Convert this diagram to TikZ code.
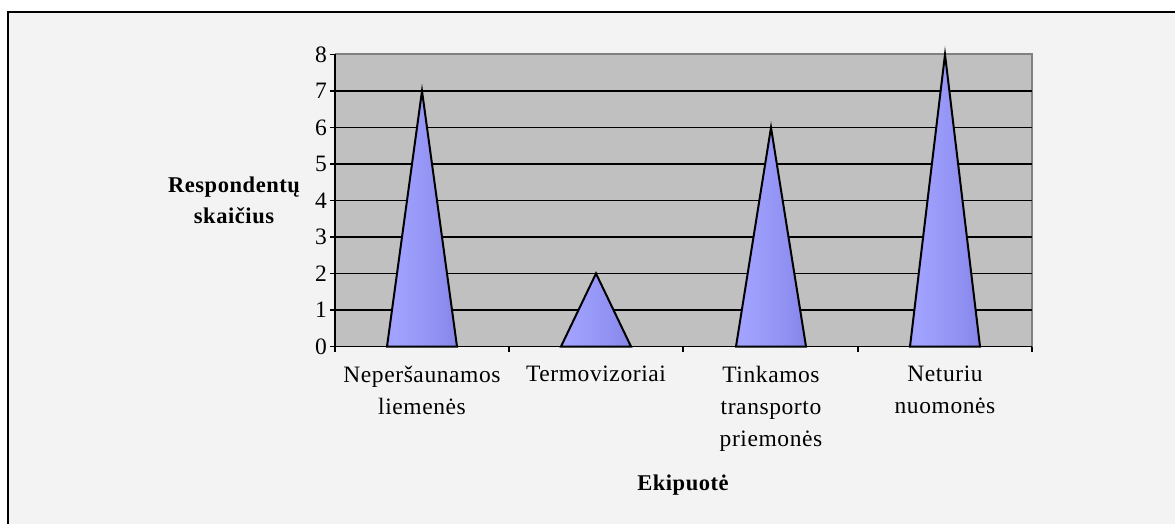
\documentclass[tikz,border=0pt]{standalone}
\usepackage{fontspec}
\setmainfont[LetterSpace = 2.5]{Liberation Serif}
\usetikzlibrary{positioning}

\definecolor{chartbg}{HTML}{F3F3F3}
\definecolor{plotbg}{HTML}{C0C0C0}
\definecolor{plotedge}{HTML}{808080}
\definecolor{conelight}{HTML}{A2A2FF}
\definecolor{conemid}{HTML}{9090F2}
\definecolor{conedark}{HTML}{7070D6}
\pgfdeclarehorizontalshading{conefill}{100bp}{color(0bp)=(conemid); color(30bp)=(conelight); color(62bp)=(conemid); color(100bp)=(conedark)}

\tikzset{
	ticklabel/.style = {anchor = east, inner sep = 0pt, font = \fontsize{23.5}{24}\selectfont},
	catlabel/.style = {anchor = north, align = center, inner sep = 0pt, font = \fontsize{23.5}{32.2}\selectfont},
	axistitle/.style = {anchor = north, align = center, inner sep = 0pt, font = \bfseries\fontsize{22.5}{31}\selectfont},
	cone/.style = {draw = black, line width = 2pt, shade, shading = conefill},
	gridline/.style = {black, line width = 1.6pt},
}

\begin{document}
\begin{tikzpicture}[x = 1pt, y = -1pt]
					\useasboundingbox (0, 0) rectangle (1175, 524);
					\fill [white] (0, 0) rectangle (1175, 524);
					\fill [chartbg] (8, 12) rectangle (1190, 540);
					\draw [black, line width = 2.6pt] (8, 540) -- (8, 12) -- (1190, 12);
					% plot area
					\fill [plotbg] (335, 54) rectangle (1032, 346.5);
					\draw [plotedge, line width = 1.2pt] (335, 54) -- (1032, 54) -- (1032, 346.5);
					\foreach \v in {1, ..., 7}
						\draw [gridline] (335, {346.5 - 36.5 * \v}) -- (1032, {346.5 - 36.5 * \v});
					% cones
					\foreach \c/\v in {422/7, 596/2, 771/6, 945/8}
						\draw [cone] (\c - 35, 346.5) -- (\c, {346.5 - 36.5 * \v}) -- (\c + 35, 346.5) -- cycle;
					% axes
					\draw [gridline] (335, 54) -- (335, 346.5) -- (1032, 346.5);
					\foreach \v in {0, ..., 8} {
						\draw [black, line width = 1.2pt] (330, {346.5 - 36.5 * \v}) -- (335, {346.5 - 36.5 * \v});
						\node (yl\v) [ticklabel] at (327, {346.5 - 36.5 * \v}) {\v};
					}
					\foreach \x in {335, 509, 683, 858, 1032}
						\draw [black, line width = 1.2pt] (\x, 346.5) -- (\x, 352);
					% labels
					\node (cata) [catlabel] at (422, 365.5) {Neperšaunamos\\liemenės};
					\node (catb) [catlabel] at (596, 365.5) {Termovizoriai};
					\node (catc) [catlabel] at (771, 365.5) {Tinkamos\\transporto\\priemonės};
					\node (catd) [catlabel] at (945, 365.5) {Neturiu\\nuomonės};
					\node (ytitle) [axistitle] at (234, 176.5) {Respondentų\\skaičius};
					\node (xtitle) [axistitle, anchor = base] at (683, 490) {Ekipuotė};
				\end{tikzpicture}
\end{document}
